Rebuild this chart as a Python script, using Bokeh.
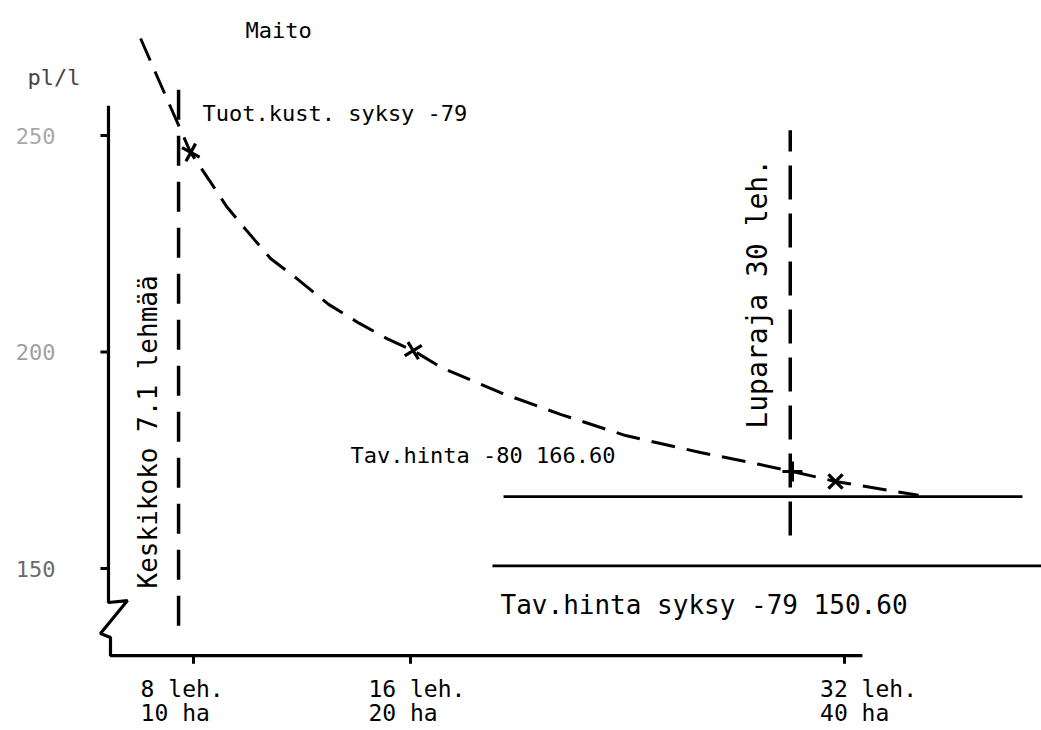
import math
from bokeh.plotting import figure
from bokeh.models import Range1d
from bokeh.core.properties import value
from bokeh.embed import file_html
from bokeh.resources import INLINE

FONT = "DejaVu Sans Mono"

# ---- data ----
curve_x = [6.05, 6.97, 7.89, 8.59, 9.22, 9.95, 10.84, 11.80, 12.98, 14.12, 15.19,
           16.11, 17.14, 19.32, 21.53, 23.93, 26.69, 28.90, 30.08, 31.67, 34.73]
curve_y = [272.4, 259.2, 246.1, 239.6, 233.6, 228.1, 221.6, 217.0, 211.0, 206.6, 202.9,
           200.3, 196.4, 190.6, 185.6, 180.7, 176.8, 174.0, 172.4, 170.1, 166.9]

marker_x = [7.9, 16.1, 30.08, 31.67]
marker_y = [246.1, 200.3, 172.4, 170.1]
marker_type = ["cross", "cross", "cross", "x"]
marker_angle = [-0.5, 0.55, 0.0, 0.0]

x_ticks = [8, 16, 32]
x_tick_lines1 = [" 8 leh.", "16 leh.", "32 leh."]
x_tick_lines2 = ["10 ha", "20 ha", "40 ha"]

y_ticks = [250, 200, 150]
y_tick_labels = ["250", "200", "150"]
y_tick_colors = ["#a8a8a8", "#a0a0a0", "#6a6a6a"]

keskikoko_x = 7.45
keskikoko_y = [136.8, 263.2]
luparaja_x = 30.0
luparaja_y = [157.6, 251.2]
price_80 = 166.6
price_80_x = [19.43, 38.56]
price_79 = 150.6
price_79_x = [19.02, 39.5]

axis_x = [4.866, 4.866, 5.567, 4.571, 4.94, 4.94, 32.66]
axis_y = [256.9, 142.15, 142.6, 135.0, 134.06, 129.9, 129.9]

# ---- figure ----
p = figure(width=1041, height=730, output_backend="svg", toolbar_location=None,
           x_range=Range1d(0.885, 39.263), y_range=Range1d(112.59, 281.18),
           x_axis_location=None, y_axis_location=None, min_border=0,
           background_fill_color="white", border_fill_color="white")
p.outline_line_color = None
p.xgrid.visible = False
p.ygrid.visible = False

# axes (hand-drawn with break)
p.line(axis_x, axis_y, line_color="black", line_width=3.2)
# y ticks
p.segment(x0=[4.57] * len(y_ticks), y0=y_ticks, x1=[4.866] * len(y_ticks), y1=y_ticks,
          line_color="black", line_width=3)
# x ticks
p.segment(x0=x_ticks, y0=[129.9] * len(x_ticks), x1=x_ticks, y1=[128.0] * len(x_ticks),
          line_color="black", line_width=3)

# reference lines
p.line([keskikoko_x, keskikoko_x], keskikoko_y, line_color="black", line_width=3.5,
       line_dash="30 16")
p.line([luparaja_x, luparaja_x], luparaja_y, line_color="black", line_width=3.5,
       line_dash="34 14")
p.line(price_80_x, [price_80, price_80], line_color="black", line_width=2.6)
p.line(price_79_x, [price_79, price_79], line_color="black", line_width=2.6)

# cost curve
p.line(curve_x, curve_y, line_color="black", line_width=3, line_dash="24 12")
p.scatter(x=marker_x, y=marker_y, marker=marker_type, angle=marker_angle, size=20,
          line_color="black", line_width=3.2)

# tick labels
p.text(x=[2.913] * len(y_ticks), y=y_ticks, text=y_tick_labels, text_color=y_tick_colors,
       text_font=value(FONT), text_font_size="22px", text_align="right",
       text_baseline="middle")
lab_left = [6.05, 14.45, 31.10]
p.text(x=lab_left, y=[122.2] * 3, text=x_tick_lines1, text_font=value(FONT),
       text_font_size="23px", text_align="left", text_baseline="middle")
p.text(x=lab_left, y=[116.7] * 3, text=x_tick_lines2, text_font=value(FONT),
       text_font_size="23px", text_align="left", text_baseline="middle")

# annotations
def label(x, y, t, size="22px", angle=0.0, color="black"):
    p.text(x=[x], y=[y], text=[t], angle=angle, text_font=value(FONT),
           text_font_size=size, text_color=color, text_align="left",
           text_baseline="middle")

label(9.92, 274.25, "Maito", "22px")
label(1.88, 263.4, "pl/l", "22px", color="#444444")
label(8.33, 255.1, "Tuot.kust. syksy -79", "22px")
label(13.79, 176.1, "Tav.hinta -80 166.60", "22px")
label(19.32, 141.5, "Tav.hinta syksy -79 150.60", "26px")
label(6.34, 145.4, "Keskikoko 7.1 lehmää", "26px", angle=math.pi / 2)
label(28.79, 182.3, "Luparaja 30 leh.", "28px", angle=math.pi / 2)

open("out.html", "w").write(file_html(p, INLINE))
